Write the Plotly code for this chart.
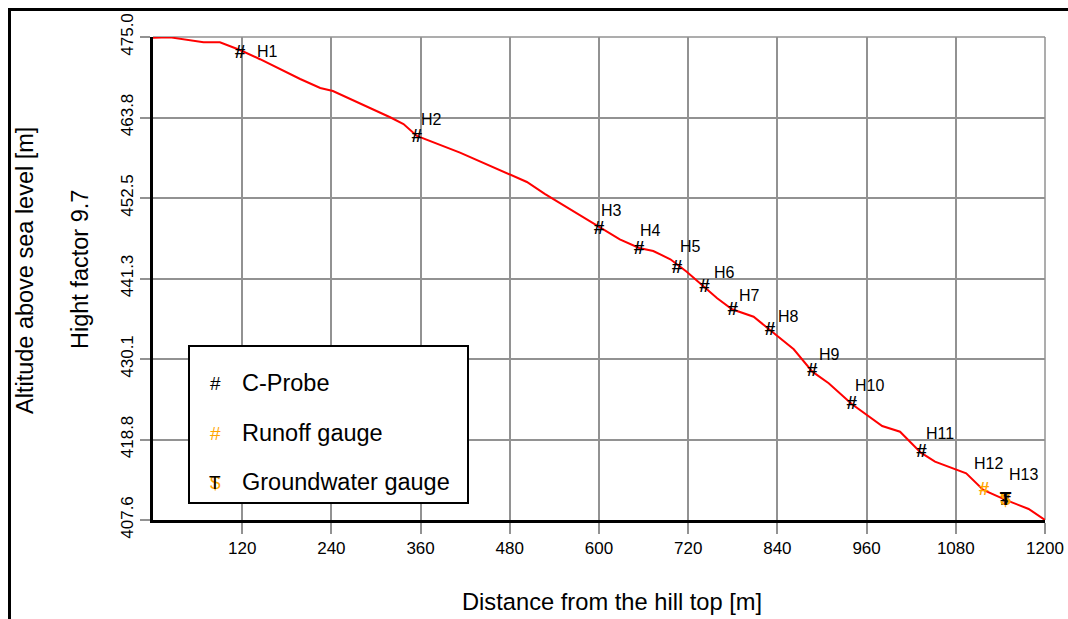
import plotly.graph_objects as go

# ---------------- data ----------------
profile_x = [0, 23, 68, 90, 117, 144, 198, 225, 242, 269, 319, 337, 355, 413, 467, 503,
             527, 602, 628, 654, 673, 696, 718, 742, 759, 779, 808, 830, 862, 887, 909,
             940, 981, 1005, 1033, 1052, 1079, 1094, 1117, 1147, 1178, 1200]
profile_y = [474.9, 474.95, 474.26, 474.26, 473.19, 471.9, 469.14, 467.88, 467.46, 466.2,
             463.8, 462.86, 461.2, 458.86, 456.44, 454.77, 453.1, 448.35, 446.77, 445.56,
             445.14, 443.98, 442.25, 440.07, 438.54, 437.0, 435.97, 434.12, 431.42, 428.3,
             426.68, 423.79, 420.72, 419.92, 417.0, 415.74, 414.68, 414.12, 411.79, 410.4,
             409.14, 407.6]

probe_names = ["H1", "H2", "H3", "H4", "H5", "H6", "H7", "H8", "H9", "H10", "H11", "H13"]
probe_x = [117, 355, 600, 654, 705, 742, 780, 830, 887, 940, 1034, 1147]
probe_y = [472.8, 461.05, 448.2, 445.4, 442.77, 440.1, 436.9, 434.1, 428.4, 423.8, 417.1, 410.4]

runoff_names = ["H12"]
runoff_x = [1118]
runoff_y = [411.8]

gw_names = ["H13"]
gw_x = [1147]
gw_y = [410.4]

x_tickvals = [120, 240, 360, 480, 600, 720, 840, 960, 1080, 1200]
y_ticktext = ["407.6", "418.8", "430.1", "441.3", "452.5", "463.8", "475.0"]
y_min, y_max = 407.6, 475.0

legend_labels = ["C-Probe", "Runoff gauge", "Groundwater gauge"]

# ---------------- layout helpers ----------------
W, H = 1068, 619
L, R, T, B = 153, 1045, 37, 520
FONT = "Liberation Sans, Arial, sans-serif"
ORANGE = "#FFA500"
GRID = "#929292"
SYM = 19


def px(xp):
    return (xp - L) / (R - L)


def py(yp):
    return (B - yp) / (B - T)


y_tickvals = [y_min + i * (y_max - y_min) / 6 for i in range(7)]

fig = go.Figure()

fig.add_trace(go.Scatter(x=profile_x, y=profile_y, mode="lines",
                         line=dict(color="#FF0000", width=2), hoverinfo="skip"))

fig.add_trace(go.Scatter(x=probe_x, y=probe_y, mode="text", text=["<b>#</b>"] * len(probe_x),
                         textposition="middle center", cliponaxis=False,
                         textfont=dict(family=FONT, size=SYM, color="black")))
fig.add_trace(go.Scatter(x=runoff_x, y=runoff_y, mode="text", text=["<b>#</b>"] * len(runoff_x),
                         textposition="middle center", cliponaxis=False,
                         textfont=dict(family=FONT, size=SYM, color=ORANGE)))
fig.add_trace(go.Scatter(x=gw_x, y=gw_y, mode="text", text=["<b>$</b>"] * len(gw_x),
                         textposition="middle center", cliponaxis=False,
                         textfont=dict(family=FONT, size=SYM, color=ORANGE)))
fig.add_trace(go.Scatter(x=gw_x, y=gw_y, mode="text", text=["<b>T</b>"] * len(gw_x),
                         textposition="middle center", cliponaxis=False,
                         textfont=dict(family=FONT, size=SYM, color="black")))

annotations = []
# point labels (pixel shifts are styling only)
label_shift = {"H1": (17, 1), "H2": (4, 17), "H3": (2, 18.5), "H4": (1, 19), "H5": (3, 21),
               "H6": (9, 15), "H7": (6, 15), "H8": (8, 13.5), "H9": (7, 16.5),
               "H10": (3, 18), "H11": (4, 18), "H12": (-10, 26), "H13": (3, 25)}
all_names = probe_names + runoff_names
all_x = probe_x + runoff_x
all_y = probe_y + runoff_y
for n, xv, yv in zip(all_names, all_x, all_y):
    dx, dy = label_shift.get(n, (3, 15))
    annotations.append(dict(x=xv, y=yv, xref="x", yref="y", text=n, showarrow=False,
                            xanchor="left", yanchor="middle", xshift=dx - 2, yshift=dy,
                            font=dict(family=FONT, size=16, color="black")))

# axis titles
annotations.append(dict(x=px(25), y=py(271), xref="paper", yref="paper",
                        text="Altitude above sea level [m]", textangle=-90, showarrow=False,
                        xanchor="center", yanchor="middle",
                        font=dict(family=FONT, size=23.5, color="black")))
annotations.append(dict(x=px(80), y=py(270), xref="paper", yref="paper",
                        text="Hight factor 9.7", textangle=-90, showarrow=False,
                        xanchor="center", yanchor="middle",
                        font=dict(family=FONT, size=23.5, color="black")))
annotations.append(dict(x=px(612), y=py(602), xref="paper", yref="paper",
                        text="Distance from the hill top [m]", showarrow=False,
                        xanchor="center", yanchor="middle",
                        font=dict(family=FONT, size=23.7, color="black")))

# legend (manual)
rows = [383, 433, 482]
sym = [[("#", "black")], [("#", ORANGE)], [("$", ORANGE), ("T", "black")]]
for lab, ry, ss in zip(legend_labels, rows, sym):
    for s, c in ss:
        annotations.append(dict(x=px(215), y=py(ry), xref="paper", yref="paper", text=s,
                                showarrow=False, xanchor="center", yanchor="middle",
                                font=dict(family=FONT, size=SYM, color=c)))
    annotations.append(dict(x=px(240), y=py(ry), xref="paper", yref="paper", text=lab,
                            showarrow=False, xanchor="left", yanchor="middle",
                            font=dict(family=FONT, size=23.5, color="black")))

shapes = [
    # outer frame
    dict(type="rect", xref="paper", yref="paper", x0=px(9.5), y0=py(700), x1=px(1200),
         y1=py(9.5), line=dict(color="black", width=3), fillcolor="rgba(0,0,0,0)", layer="above"),
    # top / right plot edges
    dict(type="line", xref="paper", yref="paper", x0=0, x1=1, y0=1, y1=1,
         line=dict(color=GRID, width=1.5), layer="below"),
    dict(type="line", xref="paper", yref="paper", x0=1, x1=1, y0=0, y1=1,
         line=dict(color=GRID, width=1.5), layer="below"),
    # legend box
    dict(type="rect", xref="paper", yref="paper", x0=px(189), y0=py(503), x1=px(468),
         y1=py(346), line=dict(color="black", width=2), fillcolor="white", layer="above"),
]

fig.update_layout(
    width=W, height=H,
    margin=dict(l=L, r=W - R, t=T, b=H - B, pad=0, autoexpand=False),
    paper_bgcolor="white", plot_bgcolor="white",
    showlegend=False,
    font=dict(family=FONT, color="black"),
    annotations=annotations,
    shapes=shapes,
    xaxis=dict(range=[0, 1200], tickvals=x_tickvals, ticktext=[str(v) for v in x_tickvals],
               automargin=False,
               showgrid=True, gridcolor=GRID, gridwidth=1.5, zeroline=False,
               showline=True, linecolor="black", linewidth=2.5,
               ticks="outside", ticklen=11, tickcolor=GRID, tickwidth=1.5,
               tickfont=dict(family=FONT, size=17, color="black")),
    yaxis=dict(range=[y_min, y_max], tickvals=y_tickvals, ticktext=y_ticktext,
               tickangle=-90, automargin=False,
               showgrid=True, gridcolor=GRID, gridwidth=1.5, zeroline=False,
               showline=True, linecolor="black", linewidth=2.5,
               ticks="outside", ticklen=10, tickcolor=GRID, tickwidth=1.5,
               tickfont=dict(family=FONT, size=17, color="black")),
)

fig.write_html("out.html")
